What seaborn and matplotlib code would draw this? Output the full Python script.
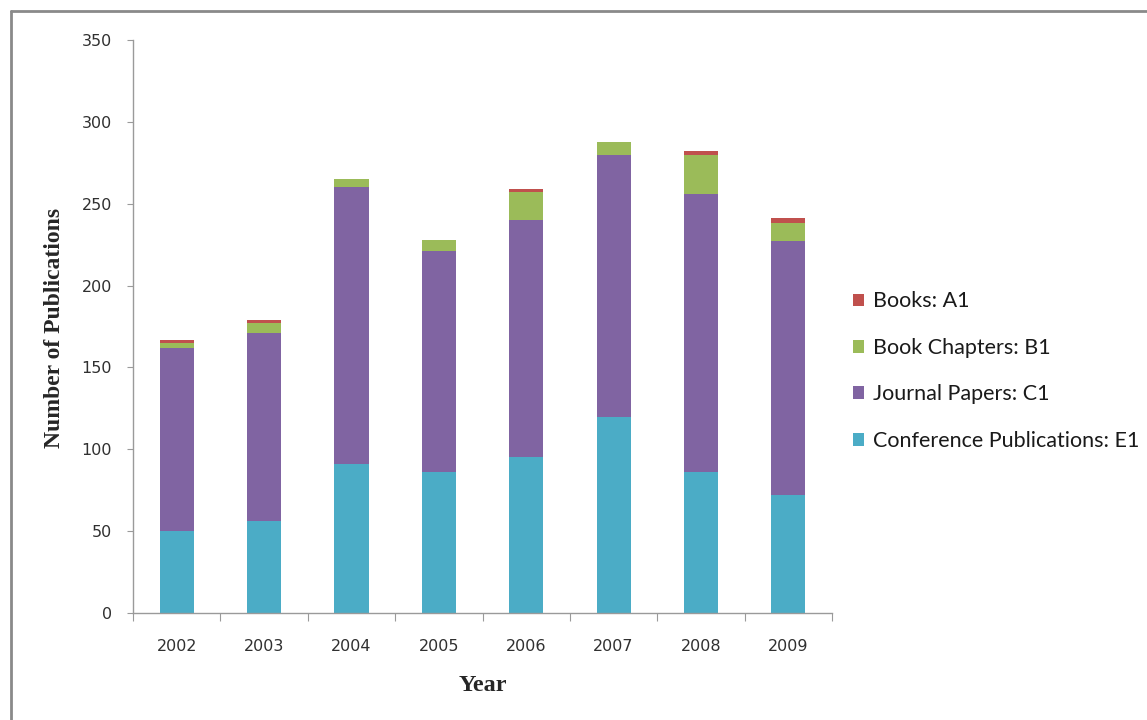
"""
Stacked publications per year, recreated with seaborn.
"""

import matplotlib

matplotlib.use("Agg")
import matplotlib.pyplot as plt
import pandas as pd
import seaborn as sns
from matplotlib.lines import Line2D
from matplotlib.patches import Patch

years = ["2002", "2003", "2004", "2005", "2006", "2007", "2008", "2009"]
conference = [50, 56, 91, 86, 95, 120, 86, 72]
journal = [112, 115, 169, 135, 145, 160, 170, 155]
chapters = [3, 6, 5, 7, 17, 8, 24, 11]
books = [2, 2, 0, 0, 2, 0, 2, 3]

series = [
    ("Conference Publications: E1", conference, "#4BACC6"),
    ("Journal Papers: C1", journal, "#8064A2"),
    ("Book Chapters: B1", chapters, "#9BBB59"),
    ("Books: A1", books, "#C0504D"),
]

sns.set_style("ticks")
plt.rcParams["font.family"] = ["DejaVu Sans"]

fig = plt.figure(figsize=(11.47, 7.2), dpi=100)
ax = fig.add_axes([0.116, 0.1486, 0.6094, 0.7958])

bottom = pd.Series([0] * len(years), dtype=float)
for label, values, color in series:
    df = pd.DataFrame({"year": years, "count": values})
    sns.barplot(
        data=df,
        x="year",
        y="count",
        color=color,
        width=0.39,
        bottom=bottom.values,
        ax=ax,
        saturation=1,
        linewidth=0,
        errorbar=None,
    )
    bottom = bottom + pd.Series(values, dtype=float)

ax.set_xlim(-0.5, len(years) - 0.5)
ax.set_ylim(0, 350)
ax.set_yticks(range(0, 351, 50))

# Excel style: x ticks sit between the categories
ax.set_xticks([i - 0.5 for i in range(len(years) + 1)], minor=False)
ax.set_xticklabels([""] * (len(years) + 1))
ax.set_xticks(range(len(years)), minor=True)
ax.set_xticklabels(years, minor=True, family="DejaVu Sans")
ax.set_yticklabels([str(v) for v in range(0, 351, 50)], family="DejaVu Sans")
ax.tick_params(axis="x", which="minor", length=0, pad=19, labelsize=11.5, labelcolor="#303030")
ax.tick_params(axis="x", which="major", length=6, color="#9a9a9a", direction="out")
ax.tick_params(axis="y", length=4, color="#9a9a9a", direction="out", pad=11, labelsize=11.5, labelcolor="#303030")

for side in ["top", "right"]:
    ax.spines[side].set_visible(False)
for side in ["left", "bottom"]:
    ax.spines[side].set_color("#9a9a9a")
    ax.spines[side].set_linewidth(1.0)

ax.set_xlabel("Year", family=["Liberation Serif"], fontweight="bold", fontsize=17.5)
ax.set_ylabel("Number of Publications", family=["Liberation Serif"], fontweight="bold", fontsize=17)
ax.xaxis.set_label_coords(0.5, -0.108)
ax.yaxis.set_label_coords(-0.098, 0.497)

handles = [Patch(facecolor=c, edgecolor="none", label=l) for l, _, c in reversed(series)]
fig.legend(
    handles=handles,
    loc="center left",
    bbox_to_anchor=(0.727, 0.4845),
    frameon=False,
    prop={"family": "Lato", "size": 15.5},
    handlelength=0.52,
    handleheight=0.52,
    handletextpad=0.4,
    labelspacing=1.23,
    labelcolor="#1a1a1a",
)

# grey border of the original chart area
fig.add_artist(Line2D([11 / 1147, 1.0], [1 - 11 / 720, 1 - 11 / 720], transform=fig.transFigure, color="#8a8a8a", lw=2))
fig.add_artist(Line2D([11 / 1147, 11 / 1147], [0.0, 1 - 11 / 720], transform=fig.transFigure, color="#8a8a8a", lw=2))

fig.savefig("out.png", dpi=100)
